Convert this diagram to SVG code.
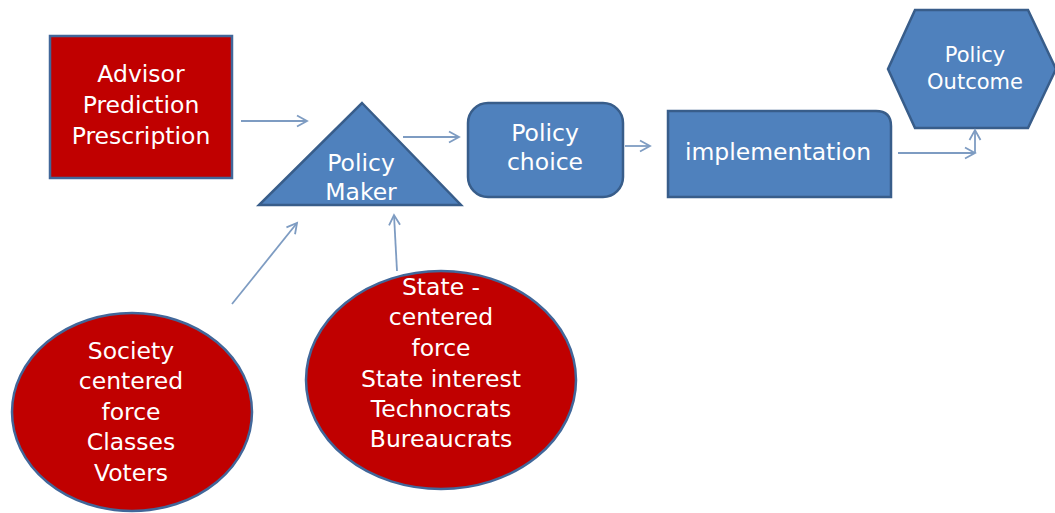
<svg xmlns="http://www.w3.org/2000/svg" width="1055" height="513" viewBox="0 0 1055 513">
  <style>
    .red { fill: #C00000; stroke: #41679A; stroke-width: 2.5; }
    .blue { fill: #4F81BD; stroke: #385D8A; stroke-width: 2.5; }
    .t { font-family: "DejaVu Sans", "Liberation Sans", sans-serif; font-size: 23.5px; fill: #FFFFFF; text-anchor: middle; }
    .ts { font-size: 21px; }
    .conn { stroke: #7E9CC2; stroke-width: 1.8; fill: none; marker-end: url(#arr); }
  </style>
  <defs>
    <marker id="arr" markerUnits="userSpaceOnUse" markerWidth="14" markerHeight="14" refX="11" refY="6" orient="auto" viewBox="0 0 14 12">
      <path d="M1,0.5 L11,6 L1,11.5" fill="none" stroke="#7E9CC2" stroke-width="1.8"/>
    </marker>
  </defs>
  <rect width="1055" height="513" fill="#FFFFFF"/>

  <g id="advisor">
    <rect class="red" x="50" y="36" width="182" height="142"/>
    <text class="t" x="141" y="82">Advisor</text>
    <text class="t" x="141" y="113">Prediction</text>
    <text class="t" x="141" y="144">Prescription</text>
  </g>

  <g id="policy-maker">
    <polygon class="blue" points="362,103 461,205 259,205"/>
    <text class="t" x="361" y="171">Policy</text>
    <text class="t" x="361" y="200">Maker</text>
  </g>

  <g id="policy-choice">
    <rect class="blue" x="468" y="103" width="155" height="94" rx="20" ry="20"/>
    <text class="t" x="545" y="141">Policy</text>
    <text class="t" x="545" y="170">choice</text>
  </g>

  <g id="implementation">
    <path class="blue" d="M668,111 H876 Q891,111 891,126 V197 H668 Z"/>
    <text class="t" x="778" y="160">implementation</text>
  </g>

  <g id="policy-outcome">
    <polygon class="blue" points="888,69 915,10 1028,10 1056,69 1028,128 915,128"/>
    <text class="t ts" x="975" y="62">Policy</text>
    <text class="t ts" x="975" y="89">Outcome</text>
  </g>

  <g id="society">
    <ellipse class="red" cx="132" cy="412" rx="120" ry="99"/>
    <text class="t" x="131" y="359">Society</text>
    <text class="t" x="131" y="389">centered</text>
    <text class="t" x="131" y="420">force</text>
    <text class="t" x="131" y="450">Classes</text>
    <text class="t" x="131" y="481">Voters</text>
  </g>

  <g id="state">
    <ellipse class="red" cx="441" cy="380" rx="135" ry="109"/>
    <text class="t" x="441" y="295">State -</text>
    <text class="t" x="441" y="325">centered</text>
    <text class="t" x="441" y="356">force</text>
    <text class="t" x="441" y="387">State interest</text>
    <text class="t" x="441" y="417">Technocrats</text>
    <text class="t" x="441" y="447">Bureaucrats</text>
  </g>

  <g id="connectors">
    <line class="conn" x1="241" y1="121" x2="307" y2="121"/>
    <line class="conn" x1="403" y1="137" x2="459" y2="137"/>
    <line class="conn" x1="625" y1="146" x2="650" y2="146"/>
    <line class="conn" x1="898" y1="153" x2="975" y2="153"/>
    <line class="conn" x1="975" y1="153" x2="975" y2="130"/>
    <line class="conn" x1="232" y1="304" x2="297" y2="223"/>
    <line class="conn" x1="397" y1="271" x2="394" y2="215"/>
  </g>
</svg>
